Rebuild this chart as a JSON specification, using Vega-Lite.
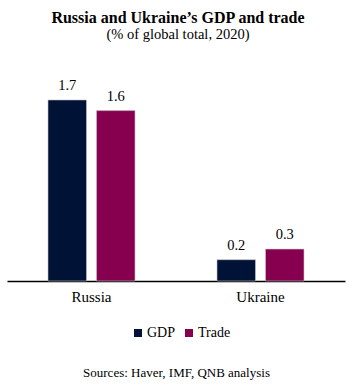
{
  "$schema": "https://vega.github.io/schema/vega-lite/v6.json",
  "autosize": {"type": "none"},
  "width": 338,
  "height": 213,
  "padding": {"left": 7, "top": 68, "right": 15, "bottom": 108},
  "background": "white",
  "config": {
    "view": {"stroke": null},
    "font": "Liberation Serif"
  },
  "title": {
    "text": "Russia and Ukraine’s GDP and trade",
    "subtitle": "(% of global total, 2020)",
    "font": "Liberation Serif",
    "fontSize": 16,
    "fontWeight": "bold",
    "color": "black",
    "subtitleFont": "Liberation Serif",
    "subtitleFontSize": 14.5,
    "subtitleColor": "black",
    "subtitlePadding": 2,
    "anchor": "middle",
    "dx": 2,
    "offset": 27
  },
  "data": {
    "values": [
      {"country": "Russia", "series": "GDP", "value": 1.7},
      {"country": "Russia", "series": "Trade", "value": 1.6},
      {"country": "Ukraine", "series": "GDP", "value": 0.2},
      {"country": "Ukraine", "series": "Trade", "value": 0.3}
    ]
  },
  "encoding": {
    "x": {
      "field": "country",
      "type": "nominal",
      "sort": ["Russia", "Ukraine"],
      "scale": {"paddingInner": 0, "paddingOuter": 0},
      "axis": {
        "title": "Sources: Haver, IMF, QNB analysis",
        "titleFont": "Liberation Serif",
        "titleFontWeight": "normal",
        "titleFontSize": 13,
        "titleColor": "black",
        "titlePadding": 62,
        "labelAngle": 0,
        "labelFont": "Liberation Serif",
        "labelFontSize": 15,
        "labelColor": "black",
        "labelPadding": 8,
        "ticks": false,
        "domainColor": "black",
        "domainWidth": 1.5,
        "grid": false
      }
    },
    "xOffset": {
      "field": "series",
      "type": "nominal",
      "scale": {"paddingInner": 0.206, "paddingOuter": 0.845}
    },
    "y": {
      "field": "value",
      "type": "quantitative",
      "scale": {"domain": [0, 2]},
      "axis": null
    }
  },
  "layer": [
    {
      "mark": {"type": "bar", "stroke": "#c8c8c8", "strokeWidth": 0.6},
      "encoding": {
        "color": {
          "field": "series",
          "type": "nominal",
          "scale": {"domain": ["GDP", "Trade"], "range": ["#001235", "#86004f"]},
          "legend": {
            "title": null,
            "orient": "none",
            "direction": "horizontal",
            "legendX": 124,
            "legendY": 258,
            "symbolType": "square",
            "symbolSize": 64,
            "symbolStrokeWidth": 0,
            "labelFont": "Liberation Serif",
            "labelFontSize": 14,
            "labelColor": "black",
            "labelOffset": 2,
            "columnPadding": 6
          }
        }
      }
    },
    {
      "mark": {"type": "text", "baseline": "bottom", "dy": -7, "font": "Liberation Serif", "fontSize": 14.5, "color": "black"},
      "encoding": {
        "text": {"field": "value", "type": "quantitative", "format": ".1f"}
      }
    }
  ]
}
